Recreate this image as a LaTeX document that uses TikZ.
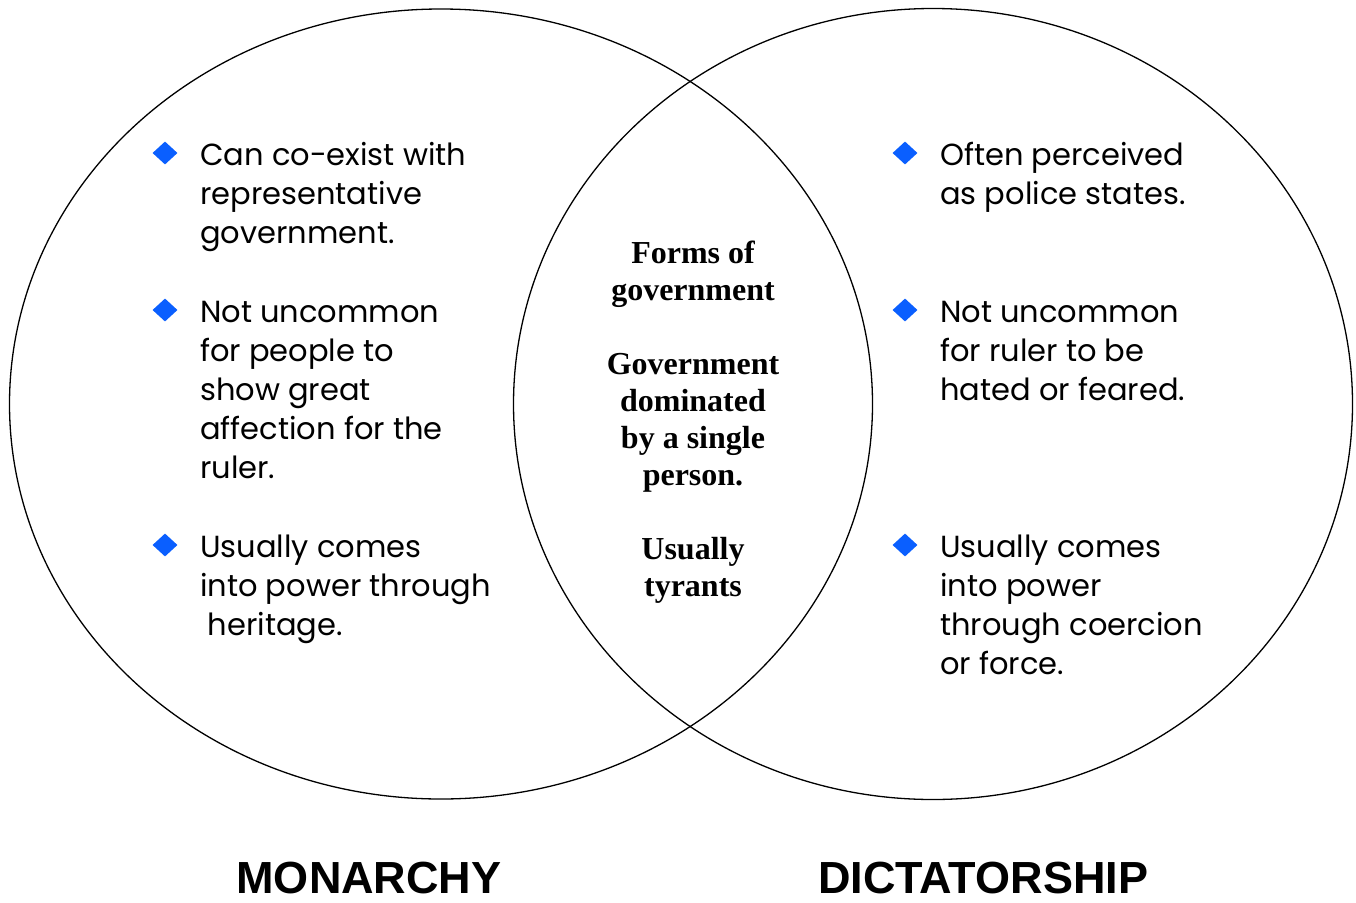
\documentclass[tikz,border=0pt]{standalone}
\usepackage{fontspec}
\setmainfont{Liberation Serif}
\newfontfamily\bodyfont{Poppins}
\newfontfamily\titlefont{Liberation Sans}
\definecolor{bulletblue}{RGB}{10,95,255}
\tikzset{
  venn/.style={draw=black, line width=1.3pt},
  bul/.style={fill=bulletblue, diamond, inner sep=0pt, minimum width=25pt, minimum height=23pt},
  itemtext/.style={anchor=base west, align=left, inner sep=0pt, font=\bodyfont\fontsize{30.5}{39}\selectfont},
  centertext/.style={anchor=base, align=center, inner sep=0pt, font=\bfseries\fontsize{32}{37}\selectfont},
  titletext/.style={anchor=base, inner sep=0pt, font=\titlefont\bfseries\fontsize{45}{50}\selectfont}
}
\usetikzlibrary{shapes.geometric}
\begin{document}
\begin{tikzpicture}[x=1pt,y=-1pt]
\useasboundingbox (0,0) rectangle (1356,902);
\draw[venn] (441,404) ellipse [x radius=431.5, y radius=395];
\draw[venn] (933,404) ellipse [x radius=419.5, y radius=395.5];
% left bullets
\node[bul] (lb1) at (165,153) {};
\node[bul] (lb2) at (165,310) {};
\node[bul] (lb3) at (165,545) {};
\node[itemtext] (lt1) at (200,243) {Can co-exist with\\representative\\government.};
\node[itemtext] (lt2) at (200,478) {Not uncommon\\for people to\\show great\\affection for the\\ruler.};
\node[itemtext] (lt3) at (200,635) {Usually comes\\into power through\\\hphantom{i}heritage.};
% right bullets
\node[bul] (rb1) at (905,153) {};
\node[bul] (rb2) at (905,310) {};
\node[bul] (rb3) at (905,545) {};
\node[itemtext] (rt1) at (940,204) {Often perceived\\as police states.};
\node[itemtext] (rt2) at (940,400) {Not uncommon\\for ruler to be\\hated or feared.};
\node[itemtext] (rt3) at (940,674) {Usually comes\\into power\\through coercion\\or force.};
% center
\node[centertext] (ct) at (693,596) {Forms of\\government\\[37pt]Government\\dominated\\by a single\\person.\\[37pt]Usually\\tyrants};
% titles
\node[titletext] (tm) at (369,893) {MONARCHY};
\node[titletext] (td) at (983,893) {DICTATORSHIP};
\end{tikzpicture}
\end{document}
